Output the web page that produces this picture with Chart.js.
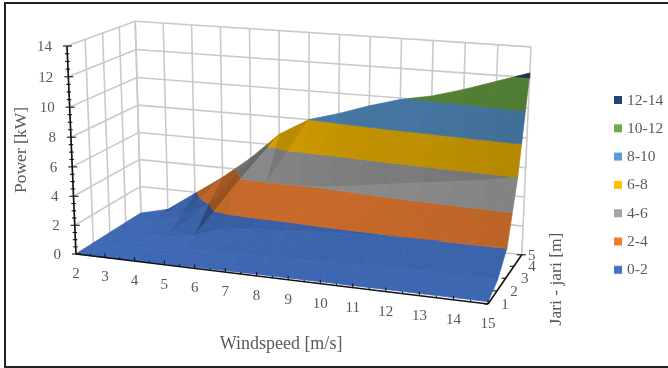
<!DOCTYPE html>
<html>
<head>
<meta charset="utf-8">
<title>Power surface</title>
<script src="https://cdn.jsdelivr.net/npm/chart.js@4"></script>
<style>
  html, body { margin: 0; padding: 0; background: #fff; }
  canvas { display: block; }
</style>
</head>
<body>
<canvas id="surfaceChart" width="668" height="368"></canvas>
<script>
// Power [kW] per windspeed, one list per radius
const windSpeeds = [2, 3, 4, 5, 6, 7, 8, 9, 10, 11, 12, 13, 14, 15];
const radii = [1, 2, 3, 4, 5];
const powerR1 = [0, 0, 0.03, 0.05, 0.08, 0.1, 0.12, 0.12, 0.13, 0.13, 0.14, 0.14, 0.15, 0.15];
const powerR2 = [0, 0.05, 0.1, 0.2, 0.4, 0.45, 0.5, 0.55, 0.6, 0.65, 0.7, 0.7, 0.7, 0.7];
const powerR3 = [0, 0.1, 0.2, 0.5, 1.2, 1.4, 1.5, 1.7, 1.8, 1.9, 1.95, 2, 2, 2];
const powerR4 = [0, 0.3, 0.9, 2, 3.8, 4, 4, 4.1, 4.4, 4.7, 5, 5.3, 5.6, 6];
const powerR5 = [0, 0.5, 1.9, 3.3, 4.9, 6.8, 8, 8.6, 9.3, 9.9, 10.3, 10.9, 11.6, 12.3];
const powerRows = [powerR1, powerR2, powerR3, powerR4, powerR5];

const powerTicks = [0, 2, 4, 6, 8, 10, 12, 14];
const bandLabels = ['0-2', '2-4', '4-6', '6-8', '8-10', '10-12', '12-14'];
const bandColors = ['#4472c4', '#ed7d31', '#a5a5a5', '#ffc000', '#5b9bd5', '#70ad47', '#264478'];

const SERIF = '"Liberation Serif", serif';
const TEXT_COLOR = '#595959';
const GRID_COLOR = '#c9c9c9';

// perspective box: image of the origin, of the three axis ends, and their depth weights
const ORIGIN = [76, 254];
const END_WS = [488, 304], WEIGHT_WS = 0.91;
const END_R = [141, 213], WEIGHT_R = 1.09;
const END_P = [67, 46], WEIGHT_P = 0.9608;

function project(ws, r, p) {
    const u = (ws - 2) / 13, v = (r - 1) / 4, t = p / 14;
    const a = 1 - u - v - t, b = WEIGHT_WS * u, c = WEIGHT_R * v, d = WEIGHT_P * t;
    const w = a + b + c + d;
    return {
        x: (a * ORIGIN[0] + b * END_WS[0] + c * END_R[0] + d * END_P[0]) / w,
        y: (a * ORIGIN[1] + b * END_WS[1] + c * END_R[1] + d * END_P[1]) / w
    };
}

function lineSet(points, color, width) {
    return { data: points, borderColor: color, borderWidth: width, pointRadius: 0, fill: false, tension: 0 };
}

// keep the part of a triangle on one side of a power level
function clipLevel(poly, level, keepAbove) {
    const out = [];
    for (let i = 0; i < poly.length; i++) {
        const p = poly[i], q = poly[(i + 1) % poly.length];
        const pIn = keepAbove ? p[2] >= level : p[2] <= level;
        const qIn = keepAbove ? q[2] >= level : q[2] <= level;
        if (pIn) out.push(p);
        if (pIn !== qIn) {
            const k = (level - p[2]) / (q[2] - p[2]);
            out.push([p[0] + k * (q[0] - p[0]), p[1] + k * (q[1] - p[1]), level]);
        }
    }
    return out;
}

function shaded(hex, f) {
    const n = parseInt(hex.slice(1), 16);
    const ch = s => Math.round(((n >> s) & 255) * f);
    return `rgb(${ch(16)},${ch(8)},${ch(0)})`;
}

// facet brightness from its slope along windspeed and radius
function facetShade(tri) {
    const [a, b, c] = tri;
    const e1 = [b[0] - a[0], b[1] - a[1], b[2] - a[2]];
    const e2 = [c[0] - a[0], c[1] - a[1], c[2] - a[2]];
    const det = e1[0] * e2[1] - e1[1] * e2[0];
    const dWs = (e1[2] * e2[1] - e2[2] * e1[1]) / det;
    const dR = (e1[0] * e2[2] - e2[0] * e1[2]) / det;
    const f = 0.92 - 0.032 * Math.max(dR, 0) - 0.02 * Math.max(dWs, 0) - 0.2 * Math.max(dWs - 0.8, 0);
    return Math.max(0.56, f);
}

const layers = [];

// back wall and side wall gridlines
powerTicks.forEach(p => {
    layers.push(lineSet([project(2, 1, p), project(2, 5, p), project(15, 5, p)], GRID_COLOR, 1.6));
});
windSpeeds.forEach(ws => {
    layers.push(lineSet([project(ws, 5, 0), project(ws, 5, 14)], GRID_COLOR, 1.6));
});
radii.forEach(r => {
    layers.push(lineSet([project(2, r, 0), project(2, r, 14)], GRID_COLOR, 1.6));
});

// surface facets split into power bands, far rows first
function addFacet(tri) {
    const f = facetShade(tri);
    bandColors.forEach((color, b) => {
        let poly = clipLevel(tri, b * 2, true);
        if (poly.length) poly = clipLevel(poly, (b + 1) * 2, false);
        if (poly.length < 3) return;
        const pts = poly.map(q => project(q[0], q[1], q[2]));
        pts.push(pts[0]);
        const c = shaded(color, f);
        layers.push({ data: pts, borderColor: c, backgroundColor: c, borderWidth: 0.7, pointRadius: 0, fill: 'shape', tension: 0 });
    });
}
for (let j = radii.length - 2; j >= 0; j--) {
    for (let i = 0; i < windSpeeds.length - 1; i++) {
        const near = powerRows[j], far = powerRows[j + 1];
        const a = [windSpeeds[i], radii[j], near[i]];
        const b = [windSpeeds[i + 1], radii[j], near[i + 1]];
        const c = [windSpeeds[i + 1], radii[j + 1], far[i + 1]];
        const d = [windSpeeds[i], radii[j + 1], far[i]];
        addFacet([a, c, d]);
        addFacet([a, b, c]);
    }
}

// black axes with their tick marks
function offset(pt, dx, dy) {
    return { x: pt.x + dx, y: pt.y + dy };
}
const AXIS = '#111';
layers.push(lineSet([project(2, 1, 0), project(2, 1, 14)], AXIS, 1.6));
layers.push(lineSet([project(2, 1, 0), project(15, 1, 0)], AXIS, 1.6));
layers.push(lineSet([project(15, 1, 0), project(15, 5, 0)], AXIS, 1.6));
for (let p = 0; p <= 14; p += 0.5) {
    const at = project(2, 1, p), major = p % 2 === 0;
    layers.push(lineSet([offset(at, major ? -4 : -2.5, 0), offset(at, major ? 5 : 2, 0)], AXIS, 1.1));
}
for (let ws = 2.5; ws <= 15; ws += 0.5) {
    const at = project(ws, 1, 0);
    layers.push(lineSet([at, offset(at, 0, Number.isInteger(ws) ? -4 : -2)], AXIS, 1.1));
}
radii.forEach(r => {
    const at = project(15, r, 0);
    layers.push(lineSet([offset(at, r === 5 ? -5 : -4, 0), offset(at, r === 5 ? 4 : 0, 0)], AXIS, 1.1));
});

// frame round the figure
layers.push(lineSet([{ x: 668, y: 3 }, { x: 5, y: 3 }, { x: 5, y: 367 }, { x: 668, y: 367 }], '#222', 2));

const rLabelShift = [17, 17, 19, 18, 10];

const chartText = {
    id: 'chartText',
    afterDraw(chart) {
        const ctx = chart.ctx;
        const px = pt => ({ x: chart.scales.x.getPixelForValue(pt.x), y: chart.scales.y.getPixelForValue(pt.y) });
        ctx.save();
        ctx.fillStyle = TEXT_COLOR;
        ctx.textBaseline = 'middle';
        ctx.font = `15px ${SERIF}`;

        ctx.textAlign = 'right';
        powerTicks.forEach(p => {
            const at = px(project(2, 1, p));
            ctx.fillText(String(p), at.x - 15, at.y + 1);
        });
        ctx.textAlign = 'center';
        windSpeeds.forEach(ws => {
            const at = px(project(ws, 1, 0));
            ctx.fillText(String(ws), at.x, at.y + 20);
        });
        radii.forEach((r, i) => {
            const at = px(project(15, r, 0));
            ctx.fillText(String(r), at.x + rLabelShift[i], at.y + 1);
        });

        // axis titles
        ctx.font = `18px ${SERIF}`;
        ctx.fillText('Windspeed [m/s]', 281, 344);
        ctx.font = `17.5px ${SERIF}`;
        ctx.save();
        ctx.translate(21, 150);
        ctx.rotate(-Math.PI / 2);
        ctx.fillText('Power [kW]', 0, 0);
        ctx.restore();
        ctx.save();
        ctx.translate(556, 279);
        ctx.rotate(-Math.PI / 2);
        ctx.fillText('Jari - jari [m]', 0, 0);
        ctx.restore();

        // legend, highest band on top
        ctx.textAlign = 'left';
        ctx.font = `15.5px ${SERIF}`;
        for (let b = bandLabels.length - 1; b >= 0; b--) {
            const y = 100 + (bandLabels.length - 1 - b) * 28.3;
            ctx.fillStyle = bandColors[b];
            ctx.fillRect(614, y - 4, 8, 8);
            ctx.fillStyle = TEXT_COLOR;
            ctx.fillText(bandLabels[b], 627, y + 0.5);
        }
        ctx.restore();
    }
};

// dataset 0 paints on top, so the list goes in reverse
new Chart(document.getElementById('surfaceChart'), {
    type: 'line',
    data: { datasets: layers.reverse() },
    plugins: [chartText],
    options: {
        responsive: false,
        animation: false,
        parsing: false,
        normalized: false,
        layout: { padding: 0 },
        plugins: { legend: { display: false }, tooltip: { enabled: false } },
        scales: {
            x: { type: 'linear', display: false, min: 0, max: 668 },
            y: { type: 'linear', display: false, min: 0, max: 368, reverse: true }
        }
    }
});
</script>
</body>
</html>
